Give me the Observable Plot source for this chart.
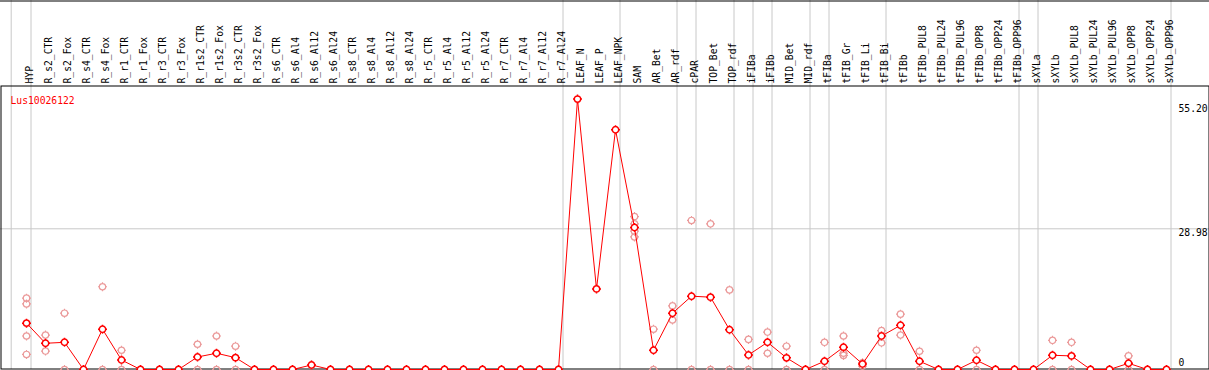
<!DOCTYPE html>
<html><head><meta charset="utf-8">
<script src="https://cdn.jsdelivr.net/npm/d3@7"></script>
<script src="https://cdn.jsdelivr.net/npm/@observablehq/plot@0.6"></script>
<style>
html,body{margin:0;padding:0;background:#fff;}
#chart svg{display:block;}
</style></head><body><div id="chart"></div>
<script>
const title = "Lus10026122";
const categories = ["HYP","R_s2_CTR","R_s2_Fox","R_s4_CTR","R_s4_Fox","R_r1_CTR","R_r1_Fox","R_r3_CTR","R_r3_Fox",
  "R_r1s2_CTR","R_r1s2_Fox","R_r3s2_CTR","R_r3s2_Fox","R_s6_CTR","R_s6_Al4","R_s6_Al12","R_s6_Al24",
  "R_s8_CTR","R_s8_Al4","R_s8_Al12","R_s8_Al24","R_r5_CTR","R_r5_Al4","R_r5_Al12","R_r5_Al24",
  "R_r7_CTR","R_r7_Al4","R_r7_Al12","R_r7_Al24","LEAF_N","LEAF_P","LEAF_NPK","SAM","AR_Bet","AR_rdf",
  "cPAR","TOP_Bet","TOP_rdf","iFIBa","iFIBb","MID_Bet","MID_rdf","tFIBa","tFIB_Gr","tFIB_Li","tFIB_Bi",
  "tFIBb","tFIBb_PUL8","tFIBb_PUL24","tFIBb_PUL96","tFIBb_OPP8","tFIBb_OPP24","tFIBb_OPP96","sXYLa",
  "sXYLb","sXYLb_PUL8","sXYLb_PUL24","sXYLb_PUL96","sXYLb_OPP8","sXYLb_OPP24","sXYLb_OPP96"];
const means = [9.55,5.4,5.6,0,8.3,1.96,0,0,0,
  2.58,3.35,2.44,0,0,0,0.93,0,
  0,0,0,0,0,0,0,0,
  0,0,0,0,55.7,16.6,49.4,29.25,3.97,11.6,
  15.1,14.9,8.2,3.0,5.6,2.4,0,1.7,4.6,1.14,6.9,
  9.1,1.7,0,0,1.9,0,0,0,
  2.93,2.8,0,0,1.28,0,0];
const replicates = [[14.7,13.5,6.9,3.1],[7.1,3.8],[11.6,0],[0,0],[17.05,0],[3.97,0],[0,0],[0,0],[0,0],
  [5.2,0],[6.9,0],[4.8,0],[0,0],[0,0],[0,0],[0.93],[0,0],
  [0,0],[0,0],[0,0],[0,0],[0,0],[0,0],[0,0],[0,0],
  [0,0],[0,0],[0,0],[0,0],[],[],[],[31.5,30.0,28.5,27.3],[8.3,0],[13.1,10.2],
  [30.7,0],[30.0,0],[16.4,0],[6.2,0],[7.7,3.35],[4.8,0],[0,0],[5.6,0],[6.9,3.35,2.9],[1.4,0.7],[8.0,5.5],
  [11.4,7.1],[3.76,0],[0,0],[0,0],[3.97,0],[0,0],[0,0],[0,0],
  [6.0,0],[5.6,0],[0,0],[0,0],[2.8,0],[0,0],[0,0]];
const groupEnds = ["HYP","R_r7_Al24","LEAF_NPK","AR_rdf","cPAR","TOP_rdf","iFIBa","iFIBb","MID_rdf",
  "tFIBa","tFIB_Bi","tFIBb_OPP96","sXYLa","sXYLb_OPP96"];
const yTicks = [0, 28.98, 55.2];
const yTickLabels = ["0", "28.98", "55.20"];
const yMax = 58.5;

const meanData = categories.map((c, i) => ({cat: c, v: means[i]}));
const repData = categories.flatMap((c, i) => replicates[i].map(v => ({cat: c, v})));

function ring(nub) {
  return {draw(ctx, size) {
    const r = Math.sqrt(size / Math.PI);
    ctx.moveTo(r, 0); ctx.arc(0, 0, r, 0, 2 * Math.PI);
    ctx.moveTo(0, -r); ctx.lineTo(0, -r - nub);
    ctx.moveTo(0, r); ctx.lineTo(0, r + nub);
    ctx.moveTo(-r, 0); ctx.lineTo(-r - nub, 0);
    ctx.moveTo(r, 0); ctx.lineTo(r + nub, 0);
  }};
}
const grey = "#c8c8c8";
const labelOffsets = [-6.5, 3.7, 7];

const plot = Plot.plot({
  width: 1209, height: 370,
  marginTop: 85, marginBottom: 1, marginLeft: 0, marginRight: 0,
  style: {fontFamily: "'DejaVu Sans Mono', monospace", fontSize: "9.7px", background: "#fff", overflow: "visible"},
  x: {type: "point", domain: categories, range: [26, 1166], padding: 0, round: false, axis: null},
  y: {domain: [0, yMax], axis: null},
  marks: [
    Plot.ruleY([yTicks[1]], {stroke: grey}),
    Plot.ruleX(groupEnds, {x: d => d, dx: 4.5, stroke: grey, insetTop: -85}),
    Plot.ruleX([categories[0]], {x: d => d, dx: -15.3, stroke: grey, insetTop: -85}),
    Plot.frame({stroke: "black", inset: 0.5}),
    Plot.ruleY([yMax], {stroke: "black", dy: -84.5}),
    Plot.text(categories, {x: d => d, frameAnchor: "top", rotate: -90, textAnchor: "start", dy: -2, fill: "black"}),
    Plot.dot(repData, {x: "cat", y: "v", r: 3.2, symbol: ring(1.3), stroke: "#eb9a9a", strokeWidth: 1.2}),
    Plot.line(meanData, {x: "cat", y: "v", stroke: "red", strokeWidth: 1}),
    Plot.dot(meanData, {x: "cat", y: "v", r: 3.2, symbol: ring(1.3), stroke: "red", fill: "white", strokeWidth: 1.5}),
    Plot.text([title], {frameAnchor: "top-left", dx: 10, dy: 12, textAnchor: "start", fill: "red"}),
    ...yTicks.map((t, i) => Plot.text([t], {y: d => d, text: () => yTickLabels[i], frameAnchor: "right", dx: -31, dy: labelOffsets[i], textAnchor: "start", fill: "black"}))
  ]
});
document.getElementById("chart").appendChild(plot);
</script></body></html>
